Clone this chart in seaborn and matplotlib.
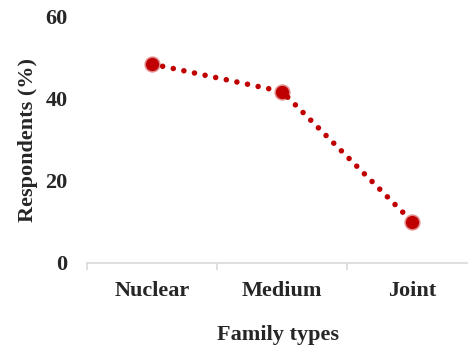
import matplotlib
matplotlib.use("Agg")
import matplotlib.pyplot as plt
import seaborn as sns
import pandas as pd
from matplotlib.ticker import FixedLocator

# Data
families = ["Nuclear", "Medium", "Joint"]
respondents = [48.5, 41.8, 10.1]

df = pd.DataFrame({"Family": families, "Respondents": respondents})

sns.set_style("white")
plt.rcParams["font.family"] = ["Liberation Serif", "DejaVu Serif"]
plt.rcParams["font.weight"] = "bold"

fig = plt.figure(figsize=(4.68, 3.52), dpi=100)
ax = fig.add_axes([0.186, 0.253, 0.814, 0.699])

red = "#C00000"
sns.lineplot(data=df, x="Family", y="Respondents", ax=ax, color=red,
             linewidth=4.0, linestyle=(0, (0.001, 1.95)),
             dash_capstyle="round", solid_capstyle="round",
             marker="o", markersize=9.5, markerfacecolor=red,
             markeredgecolor=(0.75, 0.0, 0.0, 0.45), markeredgewidth=2.2)

ax.set_xlim(-0.5, 2.43)
ax.set_ylim(0, 60)
ax.set_yticks([0, 20, 40, 60])
ax.set_xticks(range(len(families)))
ax.set_xticklabels(families)
ax.xaxis.set_minor_locator(FixedLocator([-0.5, 0.5, 1.5]))
ax.tick_params(axis="x", which="major", length=0, pad=13, labelsize=16)
ax.tick_params(axis="x", which="minor", length=5, width=1.2, color="#d9d9d9",
               direction="out", bottom=True)
ax.tick_params(axis="y", length=0, pad=14, labelsize=16)
for lab in ax.get_xticklabels() + ax.get_yticklabels():
    lab.set_fontweight("bold")

for side in ["left", "right", "top"]:
    ax.spines[side].set_visible(False)
ax.spines["bottom"].set_color("#d9d9d9")
ax.spines["bottom"].set_linewidth(1.2)

ax.set_xlabel("Family types", fontsize=16, fontweight="bold", labelpad=17)
ax.set_ylabel("Respondents (%)", fontsize=16, fontweight="bold", labelpad=5)

fig.savefig("out.png", dpi=100)
